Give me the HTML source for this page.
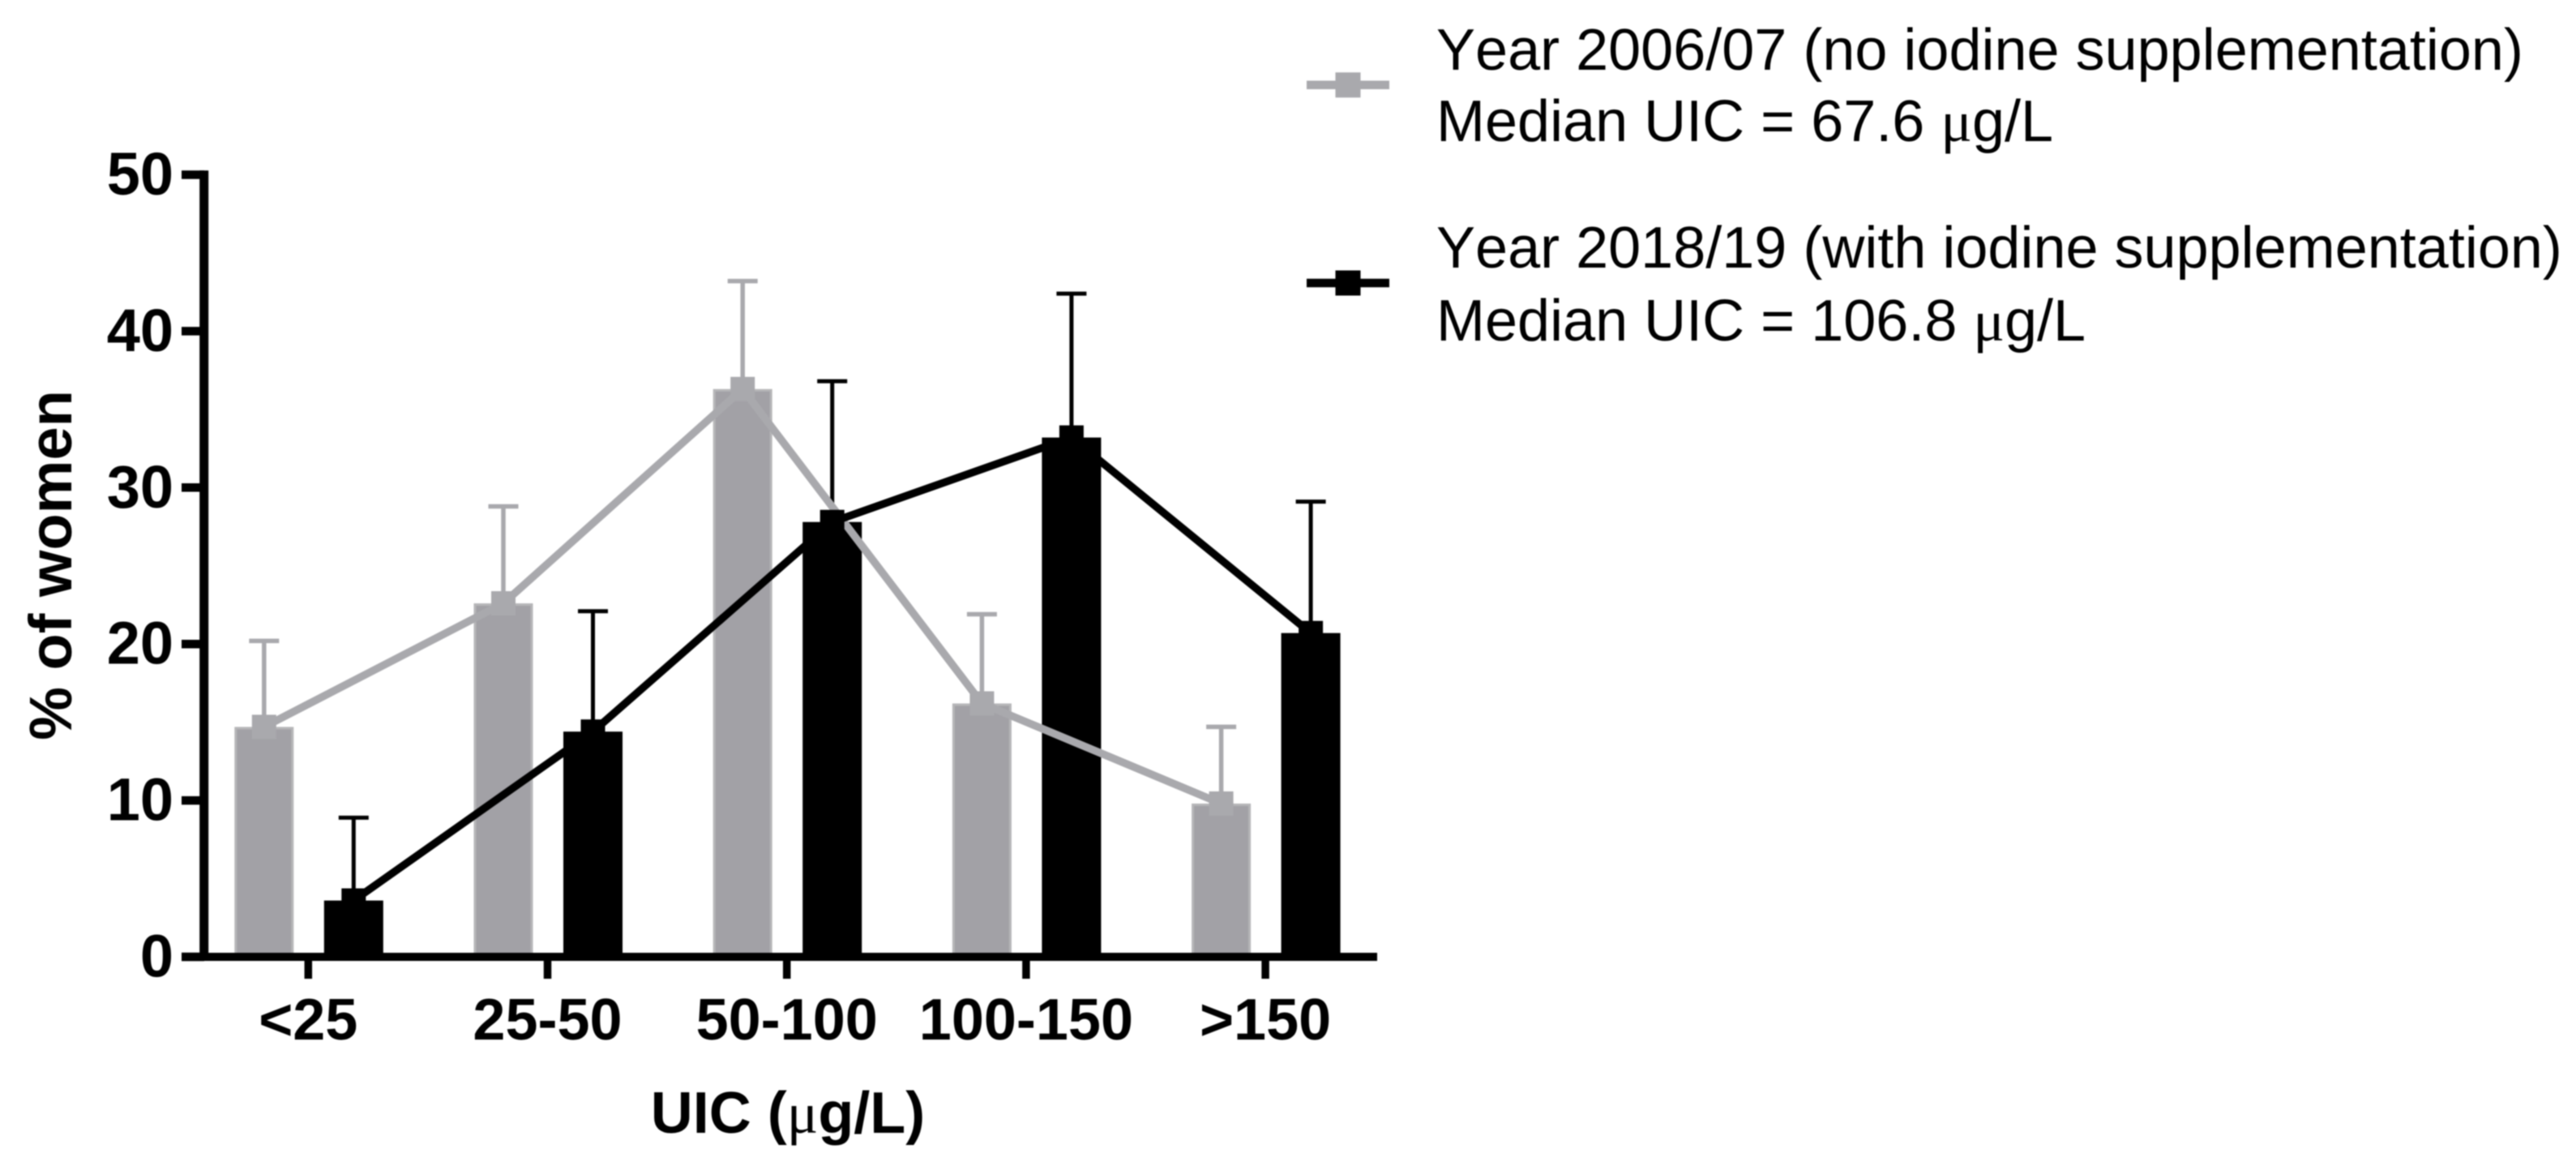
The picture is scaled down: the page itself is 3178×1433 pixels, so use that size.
<!DOCTYPE html>
<html lang="en">
<head>
<meta charset="utf-8">
<title>Urinary iodine concentration in women</title>
<style>
  html, body { margin: 0; padding: 0; background: #fff; }
  svg { display: block; filter: blur(0.7px); }
  text { font-family: "Liberation Sans", Arial, sans-serif; fill: #000; }
  .bold { font-weight: 700; }
  .mu { font-family: "Liberation Serif", serif; font-weight: 400; }
  .legend-text { font-kerning: none; }
</style>
</head>
<body>
<svg id="chart" xmlns="http://www.w3.org/2000/svg" width="3178" height="1433" viewBox="0 0 3178 1433">
  <rect x="0" y="0" width="3178" height="1433" fill="#ffffff"></rect>
  <g id="bars"></g>
  <g id="errors"></g>
  <g id="lines"></g>
  <g id="axes"></g>
  <text class="bold" font-size="74" text-anchor="middle" transform="translate(88 697) rotate(-90)">% of women</text>
  <text class="bold" font-size="72" text-anchor="middle" x="972" y="1397">UIC (<tspan class="mu">μ</tspan>g/L)</text>
  <g>
    <g>
      <line x1="1612" y1="104.7" x2="1714" y2="104.7" stroke="#a9a9ad" stroke-width="10.5"></line>
      <rect x="1647.5" y="89.3" width="31" height="31" fill="#a9a9ad"></rect>
      <text class="legend-text" font-size="72" x="1772" y="86">Year 2006/07 (no iodine supplementation)</text>
      <text class="legend-text" font-size="72" x="1772" y="174">Median UIC = 67.6 <tspan class="mu">μ</tspan>g/L</text>
    </g>
    <g>
      <line x1="1612" y1="349" x2="1714" y2="349" stroke="#000000" stroke-width="10.5"></line>
      <rect x="1647.5" y="333.5" width="31" height="31" fill="#000000"></rect>
      <text class="legend-text" font-size="72" x="1772" y="330">Year 2018/19 (with iodine supplementation)</text>
      <text class="legend-text" font-size="72" x="1772" y="420">Median UIC = 106.8 <tspan class="mu">μ</tspan>g/L</text>
    </g>
  </g>
</svg>
<script>
const categories = ['<25', '25-50', '50-100', '100-150', '>150'];
const yTicks = [0, 10, 20, 30, 40, 50];
const values2006 = [14.7, 22.6, 36.3, 16.2, 9.8];
const errorTops2006 = [20.2, 28.8, 43.2, 21.9, 14.7];
const values2018 = [3.6, 14.4, 27.8, 33.2, 20.7];
const errorTops2018 = [8.9, 22.1, 36.8, 42.4, 29.1];

const NS = 'http://www.w3.org/2000/svg';
function yPos(v) { return 1180 - v * 19.29; }
function xPos(i) { return 380.3 + i * 295.2; }
function make(tag, attrs, parent) {
  const el = document.createElementNS(NS, tag);
  for (const k in attrs) el.setAttribute(k, attrs[k]);
  parent.appendChild(el);
  return el;
}

const barsG = document.getElementById('bars');
const errorsG = document.getElementById('errors');
const linesG = document.getElementById('lines');
const axesG = document.getElementById('axes');
const BAR_W = 73;
const OFFSET_2006 = -54.5;
const OFFSET_2018 = 56;

function drawBars(values, offset, fill, edge, key) {
  values.forEach((v, i) => {
    const r = make('rect', {
      x: xPos(i) + offset - BAR_W / 2 + 1.5,
      y: yPos(v) + 1.5,
      width: BAR_W - 3,
      height: yPos(0) - yPos(v) - 1.5,
      fill: fill,
      stroke: edge,
      'stroke-width': 3
    }, barsG);
    
    
  });
}

function drawErrors(values, tops, offset, color, width, key) {
  values.forEach((v, i) => {
    const x = xPos(i) + offset;
    const stem = make('line', { x1: x, x2: x, y1: yPos(v), y2: yPos(tops[i]), stroke: color, 'stroke-width': width }, errorsG);
    
    
    const cap = make('line', { x1: x - 18.5, x2: x + 18.5, y1: yPos(tops[i]), y2: yPos(tops[i]), stroke: color, 'stroke-width': width }, errorsG);
    
    
  });
}

function drawLine(values, offset, color, key) {
  const pts = values.map((v, i) => (xPos(i) + offset) + ',' + yPos(v)).join(' ');
  const line = make('polyline', { points: pts, fill: 'none', stroke: color, 'stroke-width': 9.5, 'stroke-linejoin': 'miter' }, linesG);
  
  
  values.forEach((v, i) => {
    const m = make('rect', { x: xPos(i) + offset - 15, y: yPos(v) - 15, width: 30, height: 30, fill: color }, linesG);
    
    
  });
}

drawBars(values2006, OFFSET_2006, '#a2a1a6', '#b6b6b8', '2006');
drawBars(values2018, OFFSET_2018, '#000000', '#000000', '2018');
drawErrors(values2006, errorTops2006, OFFSET_2006, '#a9a9ad', 5.5, '2006');
drawErrors(values2018, errorTops2018, OFFSET_2018, '#000000', 5, '2018');
drawLine(values2006, OFFSET_2006, '#a9a9ad', '2006');
drawLine(values2018, OFFSET_2018, '#000000', '2018');

const yAxisLine = make('line', { x1: 251.7, x2: 251.7, y1: yPos(50) - 5.25, y2: yPos(0) + 5, stroke: '#000', 'stroke-width': 11 }, axesG);


const xAxisLine = make('line', { x1: 224, x2: 1699, y1: yPos(0), y2: yPos(0), stroke: '#000', 'stroke-width': 10 }, axesG);



yTicks.forEach((t) => {
  const tick = make('line', { x1: 224, x2: 252, y1: yPos(t), y2: yPos(t), stroke: '#000', 'stroke-width': 10.5 }, axesG);
  
  
  const label = make('text', { x: 214, y: yPos(t) + 24.5, 'font-size': 74, 'text-anchor': 'end', class: 'bold' }, axesG);
  
  
  label.textContent = t;
});

categories.forEach((c, i) => {
  const tick = make('line', { x1: xPos(i), x2: xPos(i), y1: yPos(0), y2: 1207, stroke: '#000', 'stroke-width': 9.5 }, axesG);
  
  
  const label = make('text', { x: xPos(i), y: 1282, 'font-size': 72, 'text-anchor': 'middle', class: 'bold' }, axesG);
  
  
  label.textContent = c;
});
</script>
</body>
</html>
